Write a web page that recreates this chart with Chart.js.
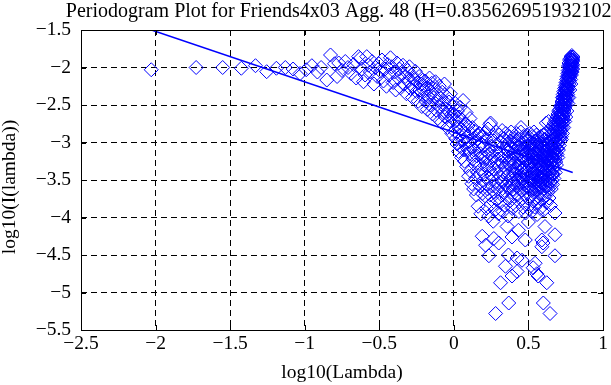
<!DOCTYPE html>
<html><head><meta charset="utf-8">
<style>html,body{margin:0;padding:0;background:#fff;}canvas{display:block;}</style>
<script src="https://cdn.jsdelivr.net/npm/chart.js@4.4.0/dist/chart.umd.min.js"></script>
</head><body>
<canvas id="c" width="611" height="385"></canvas>
<script>
const titleText = 'Periodogram Plot for Friends4x03 Agg. 48 (H=0.835626951932102)';
const xLabel = 'log10(Lambda)';
const yLabel = 'log10(I(lambda))';
const xTicks = [-2.5, -2, -1.5, -1, -0.5, 0, 0.5, 1];
const yTicks = [-5.5, -5, -4.5, -4, -3.5, -3, -2.5, -2, -1.5];

const lowFreq = [[-2.029,-2.03],[-1.728,-2.00],[-1.550,-2.00],[-1.425,-2.01],[-1.330,-1.976],[-1.255,-2.056],[-1.190,-2.01],[-1.130,-2.00],[-1.078,-2.02],[-1.031,-2.08],[-0.990,-2.03],[-0.952,-1.976],[-0.915,-2.06],[-0.890,-2.00],[-0.852,-2.167],[-0.827,-1.833],[-0.800,-1.95],[-0.783,-2.12],[-0.772,-1.94],[-0.750,-2.04],[-0.728,-1.92],[-0.710,-2.00],[-0.690,-2.08],[-0.672,-1.96],[-0.655,-2.14],[-0.639,-1.855],[-0.628,-1.878],[-0.618,-2.02],[-0.606,-2.19],[-0.595,-2.10],[-0.584,-1.855],[-0.572,-1.97],[-0.560,-2.06],[-0.548,-1.92],[-0.536,-2.22],[-0.525,-2.00],[-0.514,-2.12],[-0.503,-1.95]];

const midBand = [[-0.492,-2.05],[-0.482,-1.90],[-0.472,-2.18],[-0.462,-2.02],[-0.452,-2.25],[-0.443,-1.96],[-0.434,-2.10],[-0.425,-1.87],[-0.416,-1.99],[-0.407,-2.20],[-0.398,-2.06],[-0.390,-2.30],[-0.381,-1.94],[-0.373,-2.14],[-0.365,-2.02],[-0.357,-2.27],[-0.349,-2.09],[-0.341,-1.97],[-0.333,-2.22],[-0.326,-2.12],[-0.318,-2.35],[-0.311,-2.04],[-0.304,-2.18],[-0.298,-1.99],[-0.291,-2.28],[-0.284,-2.10],[-0.277,-2.40],[-0.274,-2.256],[-0.264,-2.16],[-0.258,-2.05],[-0.251,-2.32],[-0.245,-2.20],[-0.239,-2.45],[-0.233,-2.12],[-0.227,-2.30],[-0.221,-2.22],[-0.215,-2.52],[-0.209,-2.17],[-0.203,-2.38]];

const descent = [[-0.198,-2.31],[-0.193,-2.18],[-0.188,-2.45],[-0.183,-2.27],[-0.178,-2.56],[-0.173,-2.22],[-0.168,-2.39],[-0.163,-2.14],[-0.158,-2.50],[-0.153,-2.33],[-0.148,-2.21],[-0.143,-2.62],[-0.138,-2.40],[-0.133,-2.28],[-0.128,-2.47],[-0.123,-2.19],[-0.118,-2.57],[-0.113,-2.36],[-0.108,-2.68],[-0.103,-2.44],[-0.098,-2.25],[-0.093,-2.52],[-0.088,-2.41],[-0.083,-2.73],[-0.078,-2.33],[-0.073,-2.60],[-0.068,-2.48],[-0.063,-2.22],[-0.058,-2.66],[-0.053,-2.55],[-0.048,-2.39],[-0.043,-2.80],[-0.038,-2.58],[-0.033,-2.46],[-0.028,-2.71],[-0.023,-2.35],[-0.018,-2.63],[-0.013,-2.88],[-0.008,-2.52],[-0.003,-2.69],
[0.002,-2.62],[0.006,-2.85],[0.010,-2.48],[0.013,-2.95],[0.017,-2.71],[0.021,-3.02],[0.024,-2.58],[0.028,-2.79],[0.031,-3.12],[0.035,-2.66],[0.038,-2.90],[0.042,-2.53],[0.045,-3.05],[0.049,-2.82],[0.052,-3.20],[0.056,-2.70],[0.059,-2.97],[0.062,-2.44],[0.066,-3.10],[0.069,-2.86],[0.072,-3.25],[0.076,-2.75],[0.079,-3.00],[0.082,-2.60],[0.086,-3.32],[0.089,-2.92],[0.092,-3.08],[0.095,-2.78],[0.099,-3.45],[0.102,-2.98],[0.105,-3.15],[0.108,-2.68],[0.111,-3.38],[0.114,-2.88],[0.118,-3.05],[0.121,-3.55],[0.124,-2.80],[0.127,-3.22],[0.130,-2.95],[0.133,-3.62],[0.136,-3.10],[0.139,-2.85],[0.142,-3.30],[0.145,-3.48],[0.148,-2.98],[0.151,-3.70],[0.154,-3.18],[0.157,-2.90],[0.160,-3.40],[0.163,-3.85],[0.166,-3.05],[0.169,-3.28],[0.172,-2.88],[0.175,-3.58],[0.178,-3.15],[0.181,-3.95],[0.184,-3.35],[0.187,-3.02],[0.190,-3.68],[0.193,-3.20],[0.196,-2.92],[0.199,-3.50]];

const trough = [[0.201,-3.05],[0.204,-3.42],[0.206,-2.88],[0.209,-3.71],[0.211,-3.20],[0.214,-3.55],[0.216,-2.95],[0.219,-3.88],[0.221,-3.30],[0.224,-3.12],[0.226,-3.62],[0.229,-2.82],[0.231,-3.48],[0.234,-3.98],[0.236,-3.15],[0.239,-3.36],[0.241,-2.76],[0.244,-3.70],[0.246,-3.25],[0.249,-3.05],[0.251,-3.82],[0.254,-3.45],[0.256,-2.92],[0.259,-3.58],[0.261,-3.18],[0.264,-4.05],[0.266,-3.35],[0.269,-2.98],[0.271,-3.66],[0.274,-3.28],[0.276,-3.90],[0.279,-3.10],[0.281,-3.52],[0.284,-2.86],[0.286,-3.76],[0.289,-3.40],[0.291,-3.02],[0.294,-3.62],[0.296,-3.22],[0.299,-3.95],[0.301,-3.32],[0.304,-2.90],[0.306,-3.58],[0.309,-3.14],[0.311,-3.80],[0.314,-3.46],[0.316,-3.00],[0.319,-3.70],[0.321,-3.26],[0.324,-2.84],[0.326,-3.52],[0.329,-3.92],[0.331,-3.18],[0.334,-3.40],[0.336,-2.95],[0.339,-3.64],[0.341,-3.08],[0.344,-3.84],[0.346,-3.34],[0.349,-2.88],[0.351,-3.56],[0.354,-3.20],[0.356,-3.74],[0.359,-3.02],[0.361,-3.44],[0.364,-3.98],[0.366,-3.12],[0.369,-3.60],[0.371,-2.92],[0.374,-3.30],[0.376,-3.78],[0.379,-3.06],[0.381,-3.48],[0.384,-2.86],[0.386,-3.66],[0.389,-3.22],[0.391,-3.88],[0.394,-3.38],[0.396,-3.00],[0.399,-3.54],[0.401,-3.15],[0.404,-3.72],[0.406,-2.94],[0.409,-3.42],[0.411,-3.26],[0.414,-3.84],[0.416,-3.05],[0.419,-3.58],[0.421,-2.88],[0.424,-3.36],[0.426,-3.70],[0.429,-3.12],[0.431,-3.50],[0.434,-2.96],[0.436,-3.92],[0.439,-3.28],[0.441,-3.62],[0.444,-3.02],[0.446,-3.44],[0.449,-2.86],[0.451,-3.76],[0.454,-3.18],[0.456,-3.56],[0.459,-3.08],[0.461,-3.34],[0.464,-3.86],[0.466,-2.92],[0.469,-3.48],[0.471,-3.22],[0.474,-3.68],[0.476,-3.00],[0.479,-3.40],[0.481,-3.94],[0.484,-3.14],[0.486,-3.58],[0.489,-2.90],[0.491,-3.30],[0.494,-3.74],[0.496,-3.06],[0.499,-3.46],[0.246,-2.74],[0.45,-2.80]];

const troughOutliers = [[0.19,-4.25],[0.235,-4.51],[0.313,-4.87],[0.368,-5.14],[0.28,-5.28],[0.60,-5.14],[0.645,-5.28],[0.623,-4.87],[0.556,-4.75],[0.424,-4.72],[0.346,-4.65],[0.457,-4.57],[0.678,-4.51],[0.678,-4.23],[0.59,-4.30],[0.545,-4.61],[0.366,-4.50],[0.301,-4.34],[0.39,-4.26],[0.611,-4.12],[0.59,-4.39],[0.213,-4.37],[0.268,-4.28],[0.424,-4.54],[0.479,-4.30],[0.39,-4.78],[0.565,-4.78],[0.532,-4.67],[0.598,-4.34],[0.433,-4.17],[0.357,-4.12],[0.50,-4.06],[0.678,-3.94]];

const mirrorTrough = [[0.501,-3.22],[0.503,-2.96],[0.504,-3.60],[0.506,-3.12],[0.507,-3.84],[0.509,-3.38],[0.510,-2.88],[0.512,-3.50],[0.513,-3.06],[0.515,-3.72],[0.516,-3.28],[0.518,-3.00],[0.519,-3.64],[0.521,-3.18],[0.522,-3.92],[0.524,-3.42],[0.525,-2.92],[0.527,-3.56],[0.528,-3.10],[0.530,-3.78],[0.531,-3.32],[0.533,-3.02],[0.534,-3.66],[0.536,-3.24],[0.537,-2.86],[0.539,-3.48],[0.540,-3.14],[0.542,-3.86],[0.543,-3.36],[0.545,-2.98],[0.546,-3.58],[0.548,-3.20],[0.549,-3.74],[0.551,-3.08],[0.552,-3.44],[0.554,-2.90],[0.555,-3.62],[0.557,-3.26],[0.558,-3.96],[0.560,-3.04],[0.561,-3.52],[0.563,-3.16],[0.564,-3.80],[0.566,-3.34],[0.567,-2.94],[0.569,-3.46],[0.570,-3.12],[0.572,-3.68],[0.573,-3.28],[0.575,-3.00],[0.576,-3.56],[0.578,-3.20],[0.579,-3.88],[0.581,-3.40],[0.582,-2.92],[0.584,-3.60],[0.585,-3.10],[0.587,-3.76],[0.588,-3.30],[0.590,-3.02],[0.591,-3.50],[0.593,-3.18],[0.594,-3.70],[0.596,-3.06],[0.597,-3.42],[0.599,-2.90],[0.600,-3.62],[0.602,-3.24],[0.603,-3.90],[0.605,-3.14],[0.606,-3.48],[0.608,-2.96],[0.609,-3.36],[0.611,-3.72],[0.612,-3.08],[0.614,-3.54],[0.615,-3.20],[0.617,-2.88],[0.618,-3.44],[0.620,-3.80],[0.621,-3.12],[0.623,-3.30],[0.624,-2.98],[0.626,-3.58],[0.627,-3.16],[0.629,-3.66],[0.630,-3.04],[0.632,-3.38],[0.633,-2.84],[0.635,-3.50],[0.636,-3.22],[0.638,-3.74],[0.639,-3.00],[0.641,-3.46],[0.642,-3.14],[0.644,-2.90],[0.645,-3.56],[0.647,-3.28],[0.648,-3.84],[0.650,-3.10],[0.62,-2.74],[0.635,-2.72]];

const coreFill = [[0.362,-3.10],[0.367,-3.42],[0.372,-3.24],[0.377,-2.98],[0.382,-3.56],[0.387,-3.34],[0.392,-3.08],[0.397,-3.62],[0.402,-3.28],[0.407,-3.48],[0.412,-3.02],[0.417,-3.36],[0.422,-3.18],[0.427,-3.54],[0.432,-3.30],[0.437,-3.06],[0.442,-3.46],[0.447,-3.22],[0.452,-3.64],[0.457,-3.38],[0.462,-3.12],[0.467,-3.52],[0.472,-3.34],[0.477,-2.96],[0.482,-3.44],[0.487,-3.24],[0.492,-3.60],[0.497,-3.16],[0.502,-3.40],[0.507,-3.02],[0.511,-3.30],[0.514,-3.58],[0.517,-3.14],[0.520,-3.46],[0.523,-3.26],[0.526,-3.06],[0.529,-3.52],[0.532,-3.38],[0.535,-3.12],[0.538,-3.62],[0.541,-3.30],[0.544,-3.04],[0.547,-3.44],[0.550,-3.22],[0.553,-3.56],[0.556,-3.14],[0.559,-3.36],[0.562,-2.98],[0.565,-3.50],[0.568,-3.24],[0.571,-3.40],[0.574,-3.08],[0.577,-3.60],[0.580,-3.30],[0.583,-3.16],[0.586,-3.46],[0.589,-3.22],[0.592,-3.04],[0.595,-3.54],[0.598,-3.32],[0.601,-3.12],[0.604,-3.40],[0.607,-3.18],[0.610,-3.58],[0.613,-3.28],[0.616,-3.02],[0.619,-3.50],[0.622,-3.36],[0.625,-3.10],[0.628,-3.44],[0.631,-3.24],[0.634,-3.62],[0.637,-3.32],[0.640,-3.06],[0.643,-3.40],[0.646,-3.18],[0.649,-3.52],[0.652,-3.26],[0.655,-3.04],[0.658,-3.42],[0.661,-3.20],[0.664,-3.34],[0.667,-3.12],[0.670,-2.96],[0.673,-3.28],[0.676,-3.06],[0.679,-3.22],[0.682,-2.92],[0.685,-3.14],[0.688,-2.98],[0.691,-2.86],[0.694,-3.08],[0.697,-2.80],[0.700,-2.96],[0.703,-2.74],[0.706,-2.88],[0.709,-2.68],[0.712,-2.80],[0.715,-2.62],[0.718,-2.72]];

const mirrorRise = [[0.651,-3.40],[0.652,-2.96],[0.653,-3.62],[0.655,-3.18],[0.656,-2.82],[0.657,-3.50],[0.658,-3.06],[0.660,-3.30],[0.661,-2.90],[0.662,-3.56],[0.663,-3.14],[0.665,-2.78],[0.666,-3.42],[0.667,-3.02],[0.668,-3.24],[0.670,-2.86],[0.671,-3.48],[0.672,-3.10],[0.673,-2.74],[0.675,-3.34],[0.676,-2.94],[0.677,-3.18],[0.678,-2.80],[0.680,-3.40],[0.681,-3.00],[0.682,-2.70],[0.683,-3.26],[0.685,-2.88],[0.686,-3.08],[0.687,-2.76],[0.688,-3.30],[0.690,-2.92],[0.691,-2.66],[0.692,-3.16],[0.693,-2.84],[0.695,-3.02],[0.696,-2.72],[0.697,-3.20],[0.698,-2.62],[0.700,-2.90],[0.701,-3.10],[0.702,-2.78],[0.703,-2.58],[0.705,-2.96],[0.706,-2.70],[0.707,-3.04],[0.708,-2.82],[0.710,-2.56],[0.711,-2.88],[0.712,-2.66],[0.713,-2.98],[0.715,-2.76],[0.716,-2.52],[0.717,-2.84],[0.718,-2.62],[0.720,-2.92],[0.721,-2.72],[0.722,-2.50]];

const mirrorUpper = [[0.723,-2.64],[0.724,-2.80],[0.725,-2.46],[0.726,-2.70],[0.727,-2.56],[0.728,-2.40],[0.729,-2.74],[0.730,-2.60],[0.731,-2.48],[0.732,-2.66],[0.733,-2.36],[0.734,-2.54],[0.735,-2.70],[0.736,-2.44],[0.737,-2.32],[0.738,-2.58],[0.739,-2.50],[0.740,-2.38],[0.741,-2.62],[0.742,-2.28],[0.743,-2.46],[0.744,-2.54],[0.745,-2.34],[0.746,-2.42],[0.747,-2.24],[0.748,-2.50],[0.749,-2.36],[0.750,-2.30],[0.751,-2.44],[0.752,-2.20],[0.753,-2.38],[0.754,-2.28],[0.755,-2.46],[0.756,-2.16],[0.757,-2.34],[0.758,-2.24],[0.759,-2.40],[0.760,-2.12],[0.761,-2.30],[0.762,-2.20],[0.763,-2.36],[0.764,-2.08],[0.765,-2.26],
[0.7235,-2.52],[0.7265,-2.62],[0.7295,-2.44],[0.7325,-2.56],[0.7355,-2.40],[0.7385,-2.48],[0.7415,-2.34],[0.7445,-2.40],[0.7475,-2.30],[0.7505,-2.38],[0.7535,-2.26],[0.7565,-2.30],[0.7595,-2.20],[0.7625,-2.26],[0.7645,-2.48],[0.7575,-2.58],[0.7505,-2.66],[0.7435,-2.72],[0.7365,-2.80],[0.7285,-2.88],[0.7215,-2.96]];

const mirrorTop = [[0.766,-2.16],[0.767,-2.04],[0.768,-2.28],[0.769,-1.98],[0.770,-2.12],[0.771,-2.22],[0.772,-1.94],[0.773,-2.08],[0.774,-2.18],[0.775,-2.00],[0.776,-1.90],[0.777,-2.14],[0.778,-2.04],[0.779,-1.96],[0.780,-2.10],[0.781,-1.88],[0.782,-2.02],[0.783,-2.16],[0.784,-1.94],[0.785,-2.06],[0.786,-1.86],[0.787,-1.98],[0.788,-2.10],[0.789,-1.90],[0.790,-2.02],[0.791,-1.84],[0.792,-1.96],[0.793,-2.06],[0.794,-1.88],[0.795,-1.98],[0.796,-1.92],[0.797,-2.02],[0.798,-1.86],
[0.7655,-2.12],[0.7685,-2.18],[0.7715,-2.06],[0.7745,-2.12],[0.7775,-1.98],[0.7805,-2.04],[0.7835,-1.92],[0.7865,-2.00],[0.7895,-1.94],[0.7925,-1.90],[0.7955,-1.96],[0.7965,-1.86],[0.7975,-1.90],[0.7845,-2.22],[0.7775,-2.30],[0.7705,-2.40]];

const fitLine = [[-2.027,-1.50],[0.797,-3.40]];

const toPts = a => a.map(p => ({x: p[0], y: p[1]}));
const allPts = [].concat(lowFreq, midBand, descent, trough, troughOutliers, mirrorTrough, coreFill, mirrorRise, mirrorUpper, mirrorTop);

const FONT = "'Liberation Serif','Times New Roman',Times,serif";
const FS = 19.5;
const fmt = v => (v < 0 ? '\u2212' : '') + String(Math.abs(v));

const frame = {
  id: 'frame',
  afterDraw(chart) {
    const {ctx, chartArea: a, scales} = chart;
    ctx.save();
    ctx.strokeStyle = '#000';
    ctx.lineWidth = 1;
    ctx.setLineDash([]);
    ctx.beginPath();
    const tl = 5;
    xTicks.forEach(v => {
      const px = Math.round(scales.x.getPixelForValue(v)) + 0.5;
      ctx.moveTo(px, a.bottom); ctx.lineTo(px, a.bottom - tl);
      ctx.moveTo(px, a.top); ctx.lineTo(px, a.top + tl);
    });
    yTicks.forEach(v => {
      const py = Math.round(scales.y.getPixelForValue(v)) + 0.5;
      ctx.moveTo(a.left, py); ctx.lineTo(a.left + tl, py);
      ctx.moveTo(a.right, py); ctx.lineTo(a.right - tl, py);
    });
    ctx.stroke();
    ctx.strokeRect(a.left + 0.5, a.top + 0.5, a.right - a.left, a.bottom - a.top);
    ctx.fillStyle = '#000';
    ctx.textAlign = 'center';
    ctx.textBaseline = 'alphabetic';
    ctx.font = '20px ' + FONT;
    ctx.fillText(titleText, (a.left + a.right) / 2, 17);
    ctx.font = FS + 'px ' + FONT;
    ctx.fillText(xLabel, (a.left + a.right) / 2, 378);
    ctx.translate(15, (a.top + a.bottom) / 2 + 7);
    ctx.rotate(-Math.PI / 2);
    ctx.fillText(yLabel, 0, 0);
    ctx.restore();
  }
};

new Chart(document.getElementById('c'), {
  type: 'scatter',
  data: {
    datasets: [
      {
        data: toPts(allPts),
        pointStyle: 'rectRot',
        pointRadius: 7,
        pointHoverRadius: 7,
        borderColor: '#0000ff',
        backgroundColor: 'rgba(0,0,0,0)',
        pointBorderWidth: 1,
        borderWidth: 1
      },
      {
        type: 'line',
        data: toPts(fitLine),
        borderColor: '#0000ff',
        borderWidth: 1.5,
        pointRadius: 0,
        fill: false,
        tension: 0
      }
    ]
  },
  options: {
    responsive: false,
    animation: false,
    events: [],
    layout: {padding: {left: 0, right: 3, top: 30, bottom: 0}},
    plugins: {legend: {display: false}, tooltip: {enabled: false}, title: {display: false}},
    scales: {
      x: {
        type: 'linear', min: -2.5, max: 1,
        afterBuildTicks: s => { s.ticks = xTicks.map(v => ({value: v})); },
        afterFit: s => { s.height = 55; },
        ticks: {callback: fmt, color: '#000', font: {family: FONT, size: FS}, padding: 2, maxRotation: 0, autoSkip: false},
        grid: {color: '#000', lineWidth: 1, drawTicks: false},
        border: {display: false, dash: [6, 4]}
      },
      y: {
        type: 'linear', min: -5.5, max: -1.5,
        afterBuildTicks: s => { s.ticks = yTicks.map(v => ({value: v})); },
        afterFit: s => { s.width = 81; },
        ticks: {callback: fmt, color: '#000', font: {family: FONT, size: FS}, padding: 10, autoSkip: false},
        grid: {color: '#000', lineWidth: 1, drawTicks: false},
        border: {display: false, dash: [6, 4]}
      }
    }
  },
  plugins: [frame]
});
</script></body></html>
